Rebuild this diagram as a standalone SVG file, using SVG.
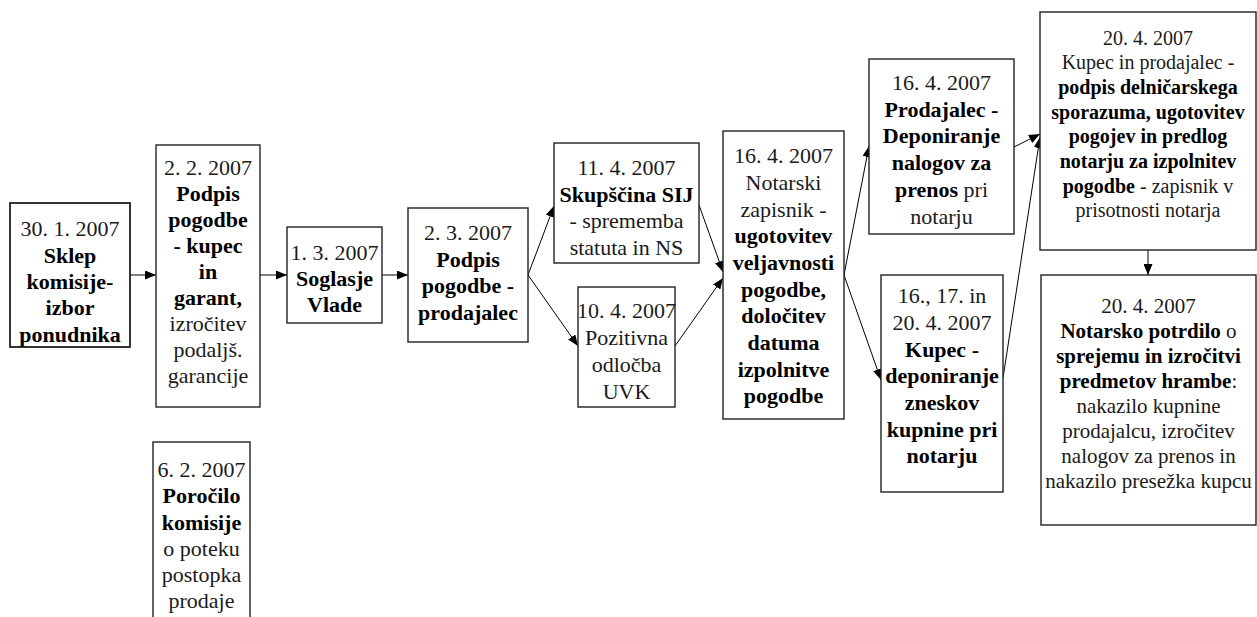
<svg xmlns="http://www.w3.org/2000/svg" width="1257" height="617" viewBox="0 0 1257 617">
<style>
  .box { fill: #fff; stroke: #222; stroke-width: 1.4; }
  text { font-family: "Liberation Serif", "Times New Roman", serif; font-size: 22px; fill: #1a1a1a; text-anchor: middle; }
  .s20 { font-size: 20px; }
  .s21 { font-size: 21px; }
  .b { font-weight: bold; fill: #000; }
  .c { stroke: #000; stroke-width: 1; fill: none; marker-end: url(#ah); }
</style>
<defs>
  <marker id="ah" markerUnits="userSpaceOnUse" markerWidth="11" markerHeight="9" refX="11" refY="4.5" orient="auto">
    <path d="M0,0 L11,4.5 L0,9 z" fill="#000"/>
  </marker>
  <clipPath id="cp1"><rect x="10" y="203" width="120" height="144"/></clipPath>
  <clipPath id="cp3"><rect x="153" y="442" width="97" height="200"/></clipPath>
</defs>
<rect width="1257" height="617" fill="#fff"/>

<g id="connectors">
  <line class="c" x1="130" y1="275" x2="156" y2="275"/>
  <line class="c" x1="260" y1="275" x2="287" y2="275"/>
  <line class="c" x1="382" y1="275" x2="408" y2="275"/>
  <line class="c" x1="528" y1="275" x2="554" y2="206"/>
  <line class="c" x1="528" y1="275" x2="578" y2="346"/>
  <line class="c" x1="699" y1="205" x2="723" y2="272"/>
  <line class="c" x1="675" y1="346" x2="723" y2="278"/>
  <line class="c" x1="844" y1="275" x2="869" y2="146"/>
  <line class="c" x1="844" y1="275" x2="881" y2="380"/>
  <line class="c" x1="1014" y1="147" x2="1040" y2="134"/>
  <line class="c" x1="1003" y1="378" x2="1040" y2="137"/>
  <line class="c" x1="1148" y1="250" x2="1148" y2="275"/>
</g>

<g id="n1">
  <rect class="box" x="10" y="203" width="120" height="144"/>
  <g clip-path="url(#cp1)">
    <text x="70" y="236">30. 1. 2007</text>
    <text class="b" x="70" y="263">Sklep</text>
    <text class="b" x="70" y="289">komisije-</text>
    <text class="b" x="70" y="315">izbor</text>
    <text class="b" x="70" y="342">ponudnika</text>
  </g>
  <rect x="10" y="203" width="120" height="144" fill="none" stroke="#222" stroke-width="1.4"/>
</g>

<g id="n2">
  <rect class="box" x="156" y="145" width="104" height="262"/>
  <text x="208" y="175">2. 2. 2007</text>
  <text class="b" x="208" y="201">Podpis</text>
  <text class="b" x="208" y="227">pogodbe</text>
  <text class="b" x="208" y="253">- kupec</text>
  <text class="b" x="208" y="279">in</text>
  <text class="b" x="208" y="305">garant,</text>
  <text x="208" y="331">izročitev</text>
  <text x="208" y="357">podaljš.</text>
  <text x="208" y="383">garancije</text>
</g>

<g id="n3">
  <rect class="box" x="153" y="442" width="97" height="200"/>
  <g clip-path="url(#cp3)">
    <text x="201.5" y="477">6. 2. 2007</text>
    <text class="b" x="201.5" y="503">Poročilo</text>
    <text class="b" x="201.5" y="530">komisije</text>
    <text x="201.5" y="556">o poteku</text>
    <text x="201.5" y="582">postopka</text>
    <text x="201.5" y="608">prodaje</text>
  </g>
</g>

<g id="n4">
  <rect class="box" x="287" y="227" width="95" height="96"/>
  <text x="334.5" y="260">1. 3. 2007</text>
  <text class="b" x="334.5" y="286">Soglasje</text>
  <text class="b" x="334.5" y="312">Vlade</text>
</g>

<g id="n5">
  <rect class="box" x="408" y="208" width="120" height="134"/>
  <text x="468" y="240">2. 3. 2007</text>
  <text class="b" x="468" y="267">Podpis</text>
  <text class="b" x="468" y="293">pogodbe -</text>
  <text class="b" x="468" y="320">prodajalec</text>
</g>

<g id="n6">
  <rect class="box" x="554" y="143" width="145" height="120"/>
  <text x="626.5" y="175">11. 4. 2007</text>
  <text class="b" x="626.5" y="202">Skupščina SIJ</text>
  <text x="626.5" y="228">- sprememba</text>
  <text x="626.5" y="255">statuta in NS</text>
</g>

<g id="n7">
  <rect class="box" x="578" y="287" width="97" height="120"/>
  <text x="626.5" y="318">10. 4. 2007</text>
  <text x="626.5" y="345">Pozitivna</text>
  <text x="626.5" y="372">odločba</text>
  <text x="626.5" y="399">UVK</text>
</g>

<g id="n8">
  <rect class="box" x="723" y="131" width="121" height="288"/>
  <text x="783.5" y="163">16. 4. 2007</text>
  <text x="783.5" y="190">Notarski</text>
  <text x="783.5" y="217">zapisnik -</text>
  <text class="b" x="783.5" y="243">ugotovitev</text>
  <text class="b" x="783.5" y="270">veljavnosti</text>
  <text class="b" x="783.5" y="297">pogodbe,</text>
  <text class="b" x="783.5" y="323">določitev</text>
  <text class="b" x="783.5" y="350">datuma</text>
  <text class="b" x="783.5" y="377">izpolnitve</text>
  <text class="b" x="783.5" y="403">pogodbe</text>
</g>

<g id="n9">
  <rect class="box" x="869" y="59" width="145" height="175"/>
  <text x="941.5" y="90">16. 4. 2007</text>
  <text class="b" x="941.5" y="117">Prodajalec -</text>
  <text class="b" x="941.5" y="143">Deponiranje</text>
  <text class="b" x="941.5" y="170">nalogov za</text>
  <text x="941.5" y="197"><tspan class="b">prenos</tspan> pri</text>
  <text x="941.5" y="224">notarju</text>
</g>

<g id="n10">
  <rect class="box" x="881" y="275" width="122" height="217"/>
  <text x="942" y="303">16., 17. in</text>
  <text x="942" y="330">20. 4. 2007</text>
  <text class="b" x="942" y="357">Kupec -</text>
  <text class="b" x="942" y="383">deponiranje</text>
  <text class="b" x="942" y="410">zneskov</text>
  <text class="b" x="942" y="437">kupnine pri</text>
  <text class="b" x="942" y="463">notarju</text>
</g>

<g id="n11">
  <rect class="box" x="1040" y="12" width="216" height="238"/>
  <text class="s20" x="1148" y="45">20. 4. 2007</text>
  <text class="s20" x="1148" y="69">Kupec in prodajalec -</text>
  <text class="s20 b" x="1148" y="94">podpis delničarskega</text>
  <text class="s20 b" x="1148" y="119">sporazuma, ugotovitev</text>
  <text class="s20 b" x="1148" y="143">pogojev in predlog</text>
  <text class="s20 b" x="1148" y="168">notarju za izpolnitev</text>
  <text class="s20" x="1148" y="193"><tspan class="b">pogodbe</tspan> - zapisnik v</text>
  <text class="s20" x="1148" y="217">prisotnosti notarja</text>
</g>

<g id="n12">
  <rect class="box" x="1041" y="275" width="215" height="250"/>
  <text class="s21" x="1148.5" y="313">20. 4. 2007</text>
  <text class="s21" x="1148.5" y="338"><tspan class="b">Notarsko potrdilo</tspan> o</text>
  <text class="s21 b" x="1148.5" y="363">sprejemu in izročitvi</text>
  <text class="s21" x="1148.5" y="388"><tspan class="b">predmetov hrambe</tspan>:</text>
  <text class="s21" x="1148.5" y="413">nakazilo kupnine</text>
  <text class="s21" x="1148.5" y="438">prodajalcu, izročitev</text>
  <text class="s21" x="1148.5" y="463">nalogov za prenos  in</text>
  <text class="s21" x="1148.5" y="488">nakazilo presežka kupcu</text>
</g>
</svg>
